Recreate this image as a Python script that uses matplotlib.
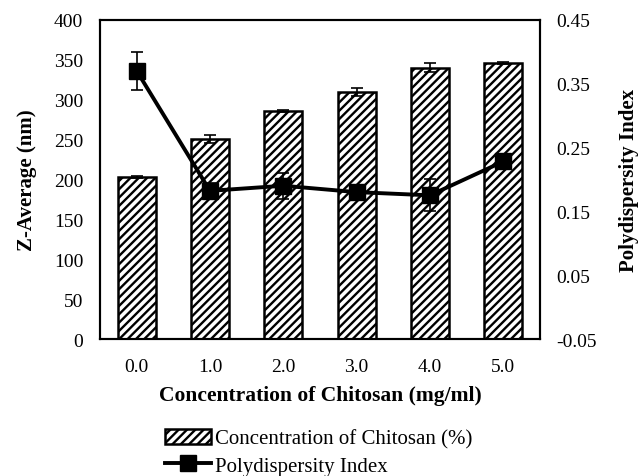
import matplotlib
matplotlib.use("Agg")
import matplotlib.pyplot as plt
import numpy as np

plt.rcParams['font.family'] = ['Liberation Serif', 'DejaVu Serif']
plt.rcParams['hatch.linewidth'] = 1.7

# data
conc_labels = ["0.0", "1.0", "2.0", "3.0", "4.0", "5.0"]
z_avg = [203, 250, 286, 310, 340, 346]
z_err = [1.5, 5, 1.5, 5, 6, 1.5]
pdi = [0.370, 0.182, 0.190, 0.180, 0.175, 0.228]
pdi_err = [0.030, 0.012, 0.020, 0.010, 0.025, 0.005]

fig = plt.figure(figsize=(6.38, 4.77), dpi=100)
ax = fig.add_axes([0.1567, 0.2872, 0.6897, 0.6694])
x = np.arange(len(conc_labels))

bars = ax.bar(x, z_avg, width=0.52, color="white", edgecolor="black",
              linewidth=1.8, hatch="////", label="Concentration of Chitosan (%)",
              zorder=2)
ax.errorbar(x, z_avg, yerr=z_err, fmt="none", ecolor="black", elinewidth=1.2,
            capsize=4, capthick=1.2, zorder=3)
ax.set_ylim(0, 400)
ax.set_yticks(np.arange(0, 401, 50))
ax.set_xlim(-0.5, len(x) - 0.5)
ax.set_xticks(x)
ax.set_xticklabels(conc_labels)
ax.tick_params(axis="both", length=0, labelsize=14)
ax.tick_params(axis="y", pad=12)
ax.tick_params(axis="x", pad=14)
for s in ax.spines.values():
    s.set_linewidth(1.5)
ax.set_ylabel("Z-Average (nm)", fontsize=15, fontweight="bold", labelpad=12)
ax.set_xlabel("Concentration of Chitosan (mg/ml)", fontsize=15.5,
              fontweight="bold", labelpad=7)

ax2 = ax.twinx()
line = ax2.errorbar(x, pdi, yerr=pdi_err, color="black", linewidth=2.8,
                    marker="s", markersize=11, ecolor="black", elinewidth=1.2,
                    capsize=4, capthick=1.2, label="Polydispersity Index",
                    zorder=4)
ax2.set_ylim(-0.05, 0.45)
ax2.set_yticks([-0.05, 0.05, 0.15, 0.25, 0.35, 0.45])
ax2.set_yticklabels(["-0.05", "0.05", "0.15", "0.25", "0.35", "0.45"])
ax2.tick_params(axis="y", length=0, labelsize=14, pad=12)
ax2.set_ylabel("Polydispersity Index", fontsize=15, fontweight="bold",
               labelpad=16)
for s in ax2.spines.values():
    s.set_linewidth(1.5)

fig.legend([bars, line[0]], ["Concentration of Chitosan (%)", "Polydispersity Index"],
           loc="upper center", bbox_to_anchor=(0.5, 0.12), ncol=1,
           frameon=False, fontsize=15, handlelength=2.2, handletextpad=0.2,
           labelspacing=0.35, borderpad=0)

fig.savefig("out.png", dpi=100)
